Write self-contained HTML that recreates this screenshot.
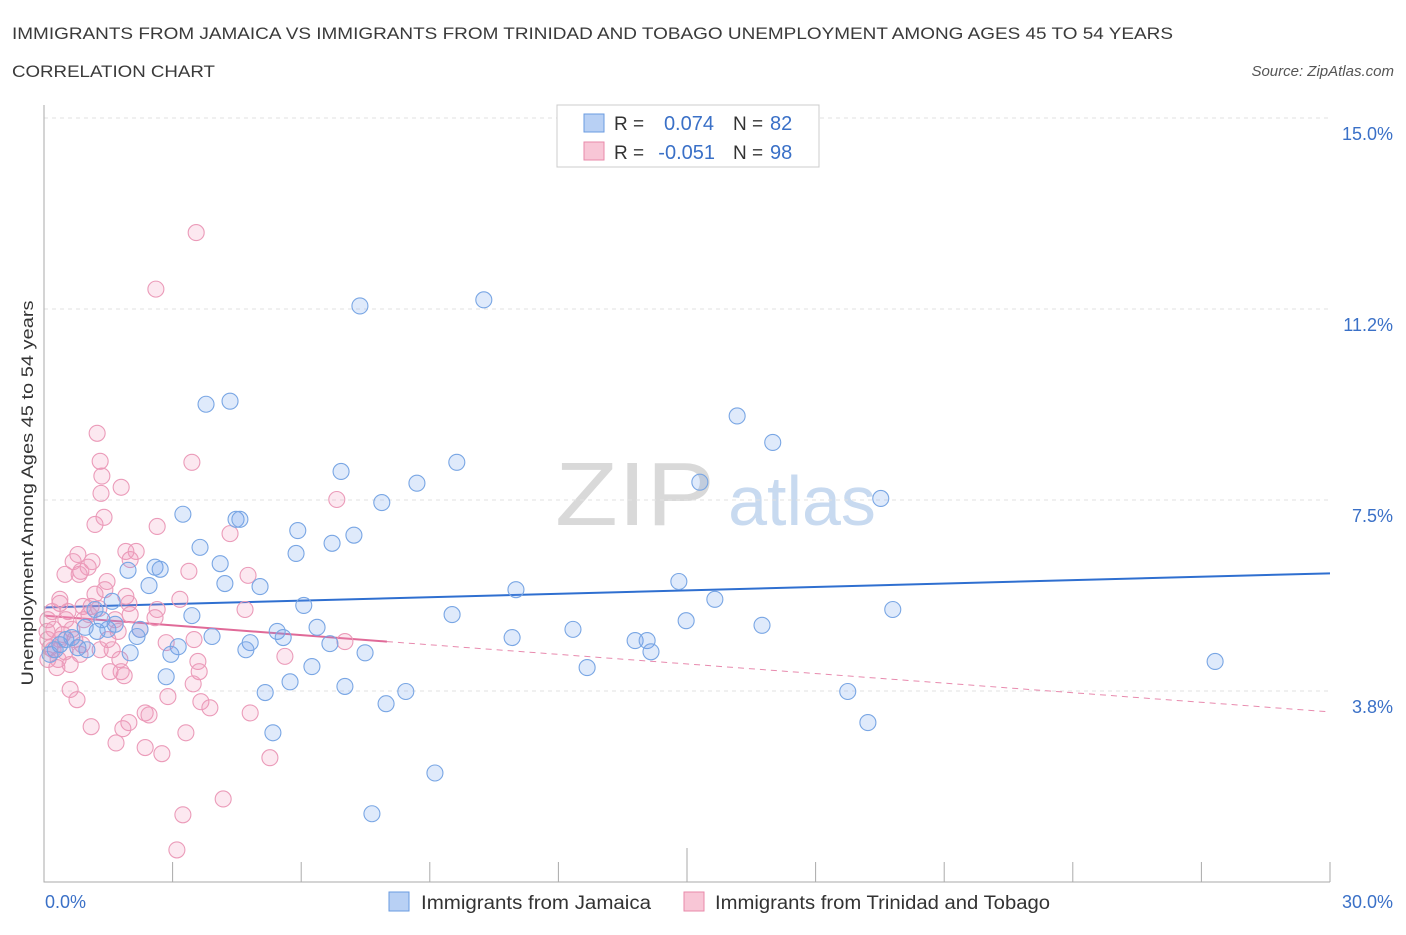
<!DOCTYPE html>
<html><head><meta charset="utf-8"><style>
body{margin:0;background:#fff;font-family:"Liberation Sans",sans-serif;}
svg text{font-family:"Liberation Sans",sans-serif;}
</style></head><body>
<svg id="chart" width="1406" height="930" viewBox="0 0 1406 930" xmlns="http://www.w3.org/2000/svg">
<text x="12" y="39" font-size="17" fill="#3a3a3a" textLength="1161" lengthAdjust="spacingAndGlyphs">IMMIGRANTS FROM JAMAICA VS IMMIGRANTS FROM TRINIDAD AND TOBAGO UNEMPLOYMENT AMONG AGES 45 TO 54 YEARS</text>
<text x="12" y="77" font-size="17" fill="#3a3a3a" textLength="203" lengthAdjust="spacingAndGlyphs">CORRELATION CHART</text>
<text x="1394" y="76" font-size="15" fill="#555" font-style="italic" text-anchor="end">Source: ZipAtlas.com</text>
<g>
<text x="635" y="525" font-size="90" fill="#d9d9d9" font-family="Liberation Serif" text-anchor="middle" textLength="160" lengthAdjust="spacingAndGlyphs">ZIP</text>
<text x="802" y="525" font-size="70" fill="#c8daf0" text-anchor="middle">atlas</text>
</g>
<g id="grid"></g>
<g id="trends"></g>
<g id="points"></g>
<g id="axes"></g>
<text transform="translate(33,493) rotate(-90)" font-size="17" fill="#333" text-anchor="middle" textLength="385" lengthAdjust="spacingAndGlyphs">Unemployment Among Ages 45 to 54 years</text>
<g>
<rect x="557" y="105" width="262" height="62" fill="#fff" stroke="#ccc"/>
<rect x="584" y="114" width="20" height="18" fill="#b8d0f4" stroke="#6a9be0"/>
<rect x="584" y="142" width="20" height="18" fill="#f8c6d6" stroke="#e889aa"/>
<text x="614" y="130" font-size="19" fill="#333">R =</text>
<text x="714" y="130" font-size="20" fill="#3a70c7" text-anchor="end">0.074</text>
<text x="733" y="130" font-size="19" fill="#333">N =</text>
<text x="770" y="130" font-size="20" fill="#3a70c7">82</text>
<text x="614" y="159" font-size="19" fill="#333">R =</text>
<text x="715" y="159" font-size="20" fill="#3a70c7" text-anchor="end">-0.051</text>
<text x="733" y="159" font-size="19" fill="#333">N =</text>
<text x="770" y="159" font-size="20" fill="#3a70c7">98</text>
</g>
<g>
<rect x="389" y="892" width="20" height="19" fill="#b8d0f4" stroke="#6a9be0"/>
<text x="421" y="909" font-size="19" fill="#333" textLength="230" lengthAdjust="spacingAndGlyphs">Immigrants from Jamaica</text>
<rect x="684" y="892" width="20" height="19" fill="#f8c6d6" stroke="#e889aa"/>
<text x="715" y="909" font-size="19" fill="#333" textLength="335" lengthAdjust="spacingAndGlyphs">Immigrants from Trinidad and Tobago</text>
</g>
</svg>
<script>
const yTicks=[3.75,7.5,11.25,15];
const yTickLabels=["3.8%","7.5%","11.2%","15.0%"];
const xTickLabels=["0.0%","30.0%"];
const blueX=[7.37,10.26,3.78,4.34,16.17,17.0,9.63,6.93,8.70,15.30,19.52,7.88,3.24,4.48,4.57,5.92,6.72,7.23,3.64,5.88,2.59,2.71,4.11,1.96,2.45,4.22,5.04,11.01,14.81,15.65,6.06,19.80,3.45,1.59,9.52,14.98,16.75,12.34,10.92,6.37,5.44,5.58,3.92,2.24,2.17,1.24,1.49,13.79,14.07,14.16,6.67,4.81,4.71,3.13,2.96,2.01,1.00,7.49,6.25,12.67,27.32,2.85,5.74,5.16,7.02,8.44,7.98,18.75,19.22,5.34,9.12,7.65,0.79,0.37,0.26,0.14,0.51,0.65,1.19,1.35,1.66,0.96];
const blueY=[11.31,11.43,9.38,9.44,9.15,8.63,8.24,8.06,7.83,7.85,7.53,7.45,7.22,7.12,7.12,6.90,6.65,6.81,6.57,6.45,6.18,6.14,6.25,6.12,5.82,5.86,5.80,5.74,5.90,5.55,5.43,5.35,5.23,5.51,5.25,5.13,5.04,4.96,4.80,5.00,4.92,4.80,4.82,4.96,4.82,4.92,4.96,4.74,4.74,4.52,4.68,4.70,4.56,4.62,4.47,4.50,4.56,4.50,4.23,4.21,4.33,4.03,3.93,3.72,3.84,3.74,3.50,3.74,3.13,2.93,2.14,1.34,4.60,4.66,4.56,4.47,4.76,4.80,5.35,5.15,5.06,5.00];
const pinkX=[3.55,2.61,1.24,1.31,3.45,1.35,1.80,1.33,6.83,1.19,1.40,2.64,4.34,0.79,0.68,1.12,0.86,1.03,1.91,2.15,2.01,0.49,0.82,3.38,4.76,1.47,1.10,0.37,0.91,0.56,1.28,1.91,1.98,3.17,4.69,2.64,0.93,1.66,0.51,0.09,0.23,0.65,0.37,0.09,1.73,2.85,3.50,7.02,1.49,0.89,1.59,0.21,0.09,0.33,1.77,5.62,3.59,1.80,3.62,1.54,1.87,3.48,0.61,2.89,0.77,3.66,3.87,2.36,2.45,4.81,1.98,1.84,1.10,3.31,1.68,2.36,2.75,5.27,4.18,3.24,3.10,0.37,0.19,0.07,0.61,0.30,0.84,1.31,1.05,0.72,0.44,2.24,2.59,2.01,1.42,1.19,0.14,0.49];
const pinkY=[12.75,11.64,8.81,8.26,8.24,7.97,7.75,7.63,7.51,7.02,7.16,6.98,6.84,6.43,6.29,6.29,6.10,6.18,6.49,6.49,6.33,6.04,6.04,6.10,6.02,5.90,5.41,5.47,5.41,5.31,5.37,5.61,5.47,5.55,5.35,5.35,5.15,5.15,5.15,5.15,4.96,4.96,4.76,4.76,4.92,4.70,4.76,4.72,4.76,4.66,4.56,4.56,4.37,4.37,4.37,4.43,4.33,4.13,4.13,4.13,4.05,3.89,3.78,3.64,3.58,3.54,3.42,3.32,3.28,3.32,3.13,3.01,3.05,2.93,2.73,2.64,2.52,2.44,1.63,1.32,0.63,5.55,5.31,4.92,4.27,4.21,4.47,4.56,5.25,4.76,4.86,4.96,5.19,5.25,5.74,5.65,4.60,4.52];
const blueTrend=[5.39,6.06];
const pinkTrendX=[0,8,30];
const pinkTrendY=[5.23,4.72,3.34];
const X0=44,X1=1330,YB=882,YT=118;
const sx=v=>X0+v*(X1-X0)/30;
const sy=v=>YB-v*(YB-YT)/15;
const NS="http://www.w3.org/2000/svg";
function mk(tag,attrs,parent){const e=document.createElementNS(NS,tag);for(const k in attrs)e.setAttribute(k,attrs[k]);parent.appendChild(e);return e;}
const grid=document.getElementById('grid'),axes=document.getElementById('axes'),pts=document.getElementById('points'),tr=document.getElementById('trends');
yTicks.forEach((t,i)=>{
 const l=mk('line',{x1:X0,x2:X1,y1:sy(t),y2:sy(t),stroke:'#e2e2e2','stroke-dasharray':'4,4'},grid);
 
 
 const tx=mk('text',{x:1393,y:sy(t)+22,'font-size':18,fill:'#3a70c7','text-anchor':'end'},axes);
 tx.textContent=yTickLabels[i];
 
 
});
const ax=mk('path',{d:`M${X0},105V${YB}H${X1}`,stroke:'#aaa',fill:'none'},axes);


for(let i=1;i<=10;i++){
 const x=sx(i*3);
 const tk=mk('line',{x1:x,x2:x,y1:YB,y2:i==5?848:862,stroke:'#aaa'},axes);
 
 
}
const xl0=mk('text',{x:45,y:908,'font-size':18,fill:'#3a70c7'},axes);xl0.textContent=xTickLabels[0];


const xl1=mk('text',{x:1393,y:908,'font-size':18,fill:'#3a70c7','text-anchor':'end'},axes);xl1.textContent=xTickLabels[1];


pinkX.forEach((v,i)=>{
 const c=mk('circle',{cx:sx(v),cy:sy(pinkY[i]),r:8,fill:'rgba(240,150,185,0.22)',stroke:'#eb9bb9','stroke-width':1.1},pts);
 
 
});
blueX.forEach((v,i)=>{
 const c=mk('circle',{cx:sx(v),cy:sy(blueY[i]),r:8,fill:'rgba(110,160,235,0.22)',stroke:'#79a6e4','stroke-width':1.1},pts);
 
 
});
const bl=mk('line',{x1:sx(0),y1:sy(blueTrend[0]),x2:sx(30),y2:sy(blueTrend[1]),stroke:'#2f6fd0','stroke-width':2},tr);


const p1=mk('line',{x1:sx(pinkTrendX[0]),y1:sy(pinkTrendY[0]),x2:sx(pinkTrendX[1]),y2:sy(pinkTrendY[1]),stroke:'#e06a98','stroke-width':2},tr);


const p2=mk('line',{x1:sx(pinkTrendX[1]),y1:sy(pinkTrendY[1]),x2:sx(pinkTrendX[2]),y2:sy(pinkTrendY[2]),stroke:'#e88aae','stroke-width':1,'stroke-dasharray':'6,5'},tr);


</script>
</body></html>
